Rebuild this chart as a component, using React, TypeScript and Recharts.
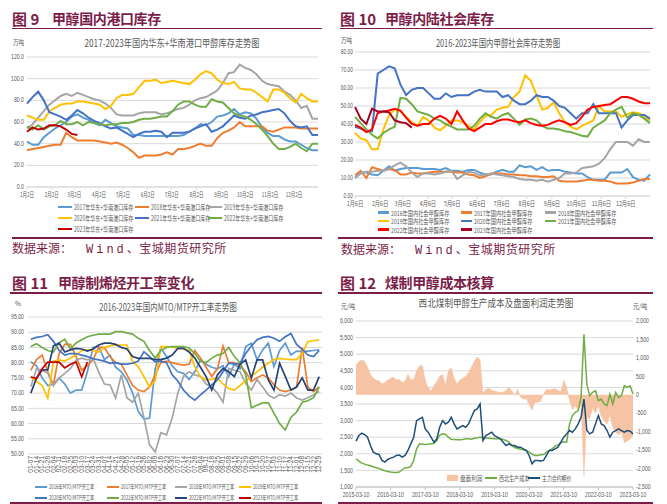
import React from 'react';
import { LineChart, Line, XAxis, YAxis, CartesianGrid, ComposedChart, Area } from 'recharts';

const MAROON = '#7b1d48';
const GRID = '#d9d9d9';
const TXT = '#595959';
const CJK = "'Noto Sans CJK SC','Noto Sans',sans-serif";
const NUM = "'Liberation Sans Narrow','Liberation Sans','DejaVu Sans',sans-serif";

/* ---------- 图9 港口库存 (weekly, day offset from 1月2日) ---------- */
const PORT_TICK_DAYS = [0, 31, 59, 90, 120, 151, 181, 212, 243, 273, 304, 334];
const PORT_TICK_LABELS = ['1月2日', '2月2日', '3月2日', '4月2日', '5月2日', '6月2日', '7月2日', '8月2日', '9月2日', '10月2日', '11月2日', '12月2日'];
const PORT_Y_TICKS = [0, 20, 40, 60, 80, 100, 120];
const PORT_NAMES = ['2017年华东+华南港口库存', '2018年华东+华南港口库存', '2019年华东+华南港口库存', '2020年华东+华南港口库存', '2021年华东+华南港口库存', '2022年华东+华南港口库存', '2023年华东+华南港口库存'];
const PORT_COLORS = ['#5b9bd5', '#ed7d31', '#a5a5a5', '#ffc000', '#4472c4', '#70ad47', '#c00000'];
const PORT_2017 = [42, 39, 39, 46, 50, 54, 57, 60, 65, 67, 64, 62, 59, 57, 62, 59, 56, 55, 54, 48, 48, 47, 47, 47, 47, 47, 47, 47, 48, 51, 54, 58, 57, 60, 65, 66, 68, 72, 67, 69, 68, 63, 55, 50, 47, 47, 44, 42, 42, 39, 36, 34, 34];
const PORT_2018 = [34, 35, 36, 37, 38, 39, 39, 50, 46, 43, 43, 43, 43, 42, 41, 40, 41, 39, 36, 32, 27, 29, 29, 29, 30, 32, 30, 35, 35, 36, 38, 40, 38, 38, 45, 50, 52, 55, 60, 56, 56, 56, 56, 52, 51, 53, 55, 55, 55, 54, 54, 54, 54];
const PORT_2019 = [54, 58, 64, 70, 76, 80, 84, 86, 84, 87, 85, 83, 81, 80, 77, 73, 67, 66, 66, 66, 68, 69, 69, 69, 67, 68, 70, 72, 73, 76, 80, 82, 83, 86, 89, 96, 105, 106, 113, 110, 108, 104, 98, 95, 94, 93, 88, 85, 80, 73, 75, 63, 63];
const PORT_2020 = [66, 64, 62, 62, 70, 73, 76, 77, 77, 79, 79, 78, 77, 76, 72, 75, 82, 85, 85, 86, 92, 98, 98, 99, 96, 97, 98, 97, 96, 95, 99, 104, 107, 105, 99, 96, 95, 97, 91, 90, 90, 87, 83, 79, 90, 90, 87, 82, 78, 86, 82, 79, 79];
const PORT_2021 = [77, 83, 88, 80, 69, 67, 65, 62, 66, 71, 68, 64, 61, 59, 56, 54, 55, 52, 49, 46, 49, 51, 51, 52, 51, 46, 50, 50, 50, 51, 54, 56, 58, 51, 53, 56, 61, 66, 64, 63, 66, 67, 69, 70, 71, 72, 68, 61, 56, 55, 56, 48, 48];
const PORT_2022 = [56, 53, 57, 53, 56, 57, 61, 58, 58, 60, 57, 60, 59, 58, 57, 58, 58, 59, 59, 60, 62, 63, 63, 64, 65, 65, 70, 76, 79, 79, 76, 74, 74, 81, 79, 78, 73, 68, 66, 65, 62, 58, 53, 47, 40, 35, 35, 37, 40, 36, 33, 40, 40];
const PORT_2023 = [51, 55, 53, 54, 57, 57, 56, 53, 49, 48];

/* ---------- 图10 社会库存 (weekly, day offset from 1月6日) ---------- */
const SOC_TICK_DAYS = [0, 31, 59, 90, 120, 151, 181, 212, 243, 273, 304, 334];
const SOC_TICK_LABELS = ['1月6日', '2月6日', '3月6日', '4月6日', '5月6日', '6月6日', '7月6日', '8月6日', '9月6日', '10月6日', '11月6日', '12月6日'];
const SOC_Y_TICKS = [0, 10, 20, 30, 40, 50, 60, 70, 80];
const SOC_NAMES = ['2016年国内社会甲醇库存', '2017年国内社会甲醇库存', '2018年国内社会甲醇库存', '2019年国内社会甲醇库存', '2020年国内社会甲醇库存', '2021年国内社会甲醇库存', '2022年国内社会甲醇库存', '2023年国内社会甲醇库存'];
const SOC_COLORS = ['#5b9bd5', '#ed7d31', '#a5a5a5', '#ffc000', '#4472c4', '#70ad47', '#ff0000', '#a50021'];
const SOC_2016 = [10, 13, 13, 12, 11.5, 14, 16.5, 14, 15, 15.5, 15.5, 15.5, 15, 15, 15, 14.5, 15.5, 14, 14, 13.5, 14.5, 14.5, 13, 12, 12, 13.5, 14.5, 13.5, 13.5, 17, 16, 16.5, 14.5, 16, 14, 14.5, 14.5, 13.5, 13, 12.5, 12.5, 10.5, 9, 9, 9, 13, 13, 13, 15, 10.5, 9, 8.5, 12];
const SOC_2017 = [11.5, 14, 10, 16, 15, 14, 15, 14.5, 12, 12, 13, 12.5, 12.5, 13, 13.5, 13.5, 13.5, 13.5, 13, 13, 12, 11.5, 10, 11, 12.5, 12.5, 12.5, 12, 12, 11.5, 11.5, 11, 11, 10.5, 10.5, 11, 8.5, 8, 8, 8, 8.5, 9, 9, 8.5, 8.5, 8, 7, 7, 7, 7.5, 8.5, 9.5, 9.5];
const SOC_2018 = [10, 12.5, 13.5, 13.5, 14, 14, 15, 17, 18.5, 16.5, 13, 10.5, 12.5, 12.5, 12, 12.5, 13.5, 14, 9.5, 11.5, 13.5, 13, 11.5, 12, 12.5, 12, 11.5, 11, 10.5, 9.5, 9, 9, 8.5, 9, 8, 9, 10, 12.5, 12.5, 13, 15.5, 16, 16.5, 18, 21, 26, 30, 30, 30, 28, 31.5, 30, 30];
const SOC_2019 = [35, 32, 31, 26, 26, 37, 45, 48, 47, 44, 41, 39, 44, 42, 38, 36.5, 39, 42, 42, 41, 39, 37, 41, 44.5, 45, 48, 49, 49.5, 55, 58, 67, 64, 56, 48, 49, 52, 46, 41, 38.5, 37, 39, 40.5, 42, 50, 47, 47, 47, 44, 45.5, 46.5, 46, 44.5, 42];
const SOC_2020 = [38.5, 37.5, 36, 36, 68, 70, 72, 71, 62, 56, 59, 60, 60, 57, 54, 54, 57, 55, 56, 56, 56, 58, 59, 58, 58, 58, 55, 56, 53, 51, 51, 53, 56, 55, 55, 53, 50, 49, 46, 43, 46, 46, 51, 46, 46, 46, 46, 38, 42, 45, 45, 45, 43];
const SOC_2021 = [44, 40.5, 37, 34, 32, 35, 37, 38.5, 54.5, 54, 51, 47, 46, 45, 43, 42, 40, 38.5, 37, 37, 37, 39, 43, 46, 44, 43, 45, 46, 43, 39.5, 42.5, 43, 42, 39, 37.5, 37.5, 37, 36, 35.5, 34.5, 33.5, 33, 38, 40, 42, 46, 48, 49.5, 43.5, 46, 45, 43, 40.5];
const SOC_2022 = [39.5, 38, 35.5, 37, 46, 47, 47.5, 48.5, 47.5, 43.5, 40, 39, 40, 40, 43, 44.5, 43, 40, 47, 42, 37.5, 36, 38, 40, 40, 41.5, 42.5, 42.5, 41.5, 41, 42, 40.5, 39.5, 39, 39.5, 41, 42, 41, 39.5, 40.5, 44, 48, 49.5, 50, 50.5, 51, 53, 55, 55, 54, 52.5, 51.5, 51.5];
const SOC_2023 = [49.5, 43, 40, 48.5, 47, 47, 46.5, 42, 41, 40.5, 38];

/* ---------- 图11 MTO/MTP 开工率 (weekly categories) ---------- */
const MTO_LABELS = ['01-07', '01-14', '01-21', '01-28', '02-04', '02-11', '02-18', '02-25', '03-03', '03-10', '03-17', '03-24', '03-31', '04-07', '04-14', '04-21', '04-28', '05-05', '05-12', '05-19', '05-26', '06-02', '06-09', '06-16', '06-23', '06-30', '07-07', '07-14', '07-21', '07-28', '08-04', '08-11', '08-18', '08-25', '09-01', '09-08', '09-15', '09-22', '09-29', '10-06', '10-13', '10-20', '10-27', '11-03', '11-10', '11-17', '11-24', '12-01', '12-08', '12-15', '12-22', '12-29'];
const MTO_Y_TICKS = [50, 55, 60, 65, 70, 75, 80, 85, 90, 95];
const MTO_NAMES = ['2016年MTO/MTP开工率', '2017年MTO/MTP开工率', '2018年MTO/MTP开工率', '2019年MTO/MTP开工率', '2020年MTO/MTP开工率', '2021年MTO/MTP开工率', '2022年MTO/MTP开工率', '2023年MTO/MTP开工率'];
const MTO_COLORS = ['#5b9bd5', '#ed7d31', '#a5a5a5', '#ffc000', '#4472c4', '#70ad47', '#264478', '#c00000'];
const MTO_2016 = [80.3, 79, 75, 72.5, 73, 75, 73, 70, 71, 71, 77, 85, 85.3, 81, 82.5, 78.5, 77, 74.3, 70, 64, 61.5, 61.8, 78, 84.7, 82, 79, 77, 76.5, 74.5, 77, 80.9, 79.5, 78.5, 78, 79, 75.4, 79.5, 78, 85.3, 86.4, 81, 84.2, 86.4, 78.7, 84, 86.4, 82.5, 83.8, 83.6, 83.8, 84, 84.2];
const MTO_2017 = [77.5, 81, 82.5, 77, 72.7, 83, 86, 86, 82, 77.5, 79, 81, 85, 85, 82, 80, 79.5, 76, 72.5, 71, 70.5, 72, 76, 80, 80.5, 80, 79.5, 79.2, 79.5, 84, 81.5, 78.5, 75.5, 78, 85.5, 80, 80, 79, 77, 73.8, 75, 76, 75, 72.7, 71, 70.5, 71, 72, 85, 72, 70.5, 72];
const MTO_2018 = [72.1, 78, 77.5, 76.5, 72.5, 74.9, 76.5, 78, 80.9, 81.5, 80.9, 81.5, 77, 73, 72.7, 68.4, 76, 68.5, 67, 70, 62, 53, 50.7, 57, 56.3, 61.8, 70, 75.5, 77, 76, 75.5, 73, 72, 70, 67, 78.1, 77.5, 77, 73.2, 71, 74.5, 72, 69.4, 68.3, 69.5, 69, 70, 68.4, 67.7, 68.5, 69.4, 70.5];
const MTO_2019 = [75.4, 73.8, 72.5, 68.3, 80.5, 80.9, 80.5, 81.5, 82.5, 84, 84.2, 84, 83.5, 85, 85.5, 85.8, 85.8, 85.8, 80.3, 78.7, 75.4, 72, 74, 85.3, 85.3, 85.2, 84.7, 84.5, 84, 78.7, 75.4, 74.3, 74.5, 75, 73, 71.5, 71, 72.5, 74, 75.4, 77, 78.5, 79.8, 81, 81.4, 81.2, 81, 81, 83, 86.9, 87.2, 87.5];
const MTO_2020 = [87.7, 88.3, 88.6, 89.2, 87, 84, 82.5, 83, 83, 82.5, 82, 81.3, 80.9, 80.5, 79.8, 80, 79.5, 79.5, 79.8, 80.5, 83.6, 82, 80.3, 80.5, 80, 76, 74, 71, 69, 67.7, 69.4, 71, 72.7, 74.3, 77, 79.8, 79.5, 79.8, 83, 85.5, 87.5, 88.3, 88.6, 88, 87, 88.5, 89.6, 86, 84.4, 82.5, 82, 84];
const MTO_2021 = [85.3, 86.2, 85, 84, 83.5, 86.5, 87.7, 84.5, 86.5, 87.5, 88.5, 89, 89.4, 89.4, 89.4, 90.2, 90.2, 89.8, 89.4, 88, 87, 84, 81.5, 84, 85, 85.3, 85.3, 85.3, 84.8, 83, 80.5, 80, 81.5, 82.5, 83, 85, 82, 80, 76, 65.2, 66, 66.8, 66.8, 63.4, 60, 57.9, 62, 63.8, 67, 67.5, 68.5, 72];
const MTO_2022 = [70, 74.9, 77.6, 77.6, 85.5, 86.4, 83.5, 84.2, 84.7, 84.5, 83.8, 84.5, 85.8, 86.4, 86.4, 86, 85, 84.5, 82, 81.4, 81.4, 81.4, 81, 81, 81.5, 82.5, 84.7, 84.7, 83.5, 81.5, 78.5, 75.4, 71, 76, 78.1, 77, 75.4, 79.5, 80.9, 75, 80.9, 80.9, 74.3, 71, 79.8, 75.5, 71, 72, 75, 71, 71, 75.4];
const MTO_2023 = [75.3, 74.8, 78, 80.2, 80.2, 80.2, 78.3, 79.5, 80.2, 75.3, 80.2];

/* ---------- 图12 煤制甲醇成本 (monthly from 2015-03) ---------- */
const COST_TICKS = [0, 12, 24, 36, 48, 60, 72, 84, 96];
const COST_TICK_LABELS = ['2015-03-10', '2016-03-10', '2017-03-10', '2018-03-10', '2019-03-10', '2020-03-10', '2021-03-10', '2022-03-10', '2023-03-10'];
const COST_LEFT_TICKS = [1000, 1500, 2000, 2500, 3000, 3500, 4000, 4500, 5000, 5500, 6000];
const COST_RIGHT_TICKS = [-2500, -2000, -1500, -1000, -500, 0, 500, 1000, 1500, 2000];
const COST_PRICE = [2380, 2550, 2620, 2580, 2500, 2250, 2050, 2000, 1980, 1800, 1750, 1830, 1870, 1900, 1950, 1960, 1900, 1950, 2100, 2300, 2500, 3000, 3050, 3100, 2750, 2650, 2500, 2350, 2450, 2800, 3000, 2900, 2950, 3100, 2900, 2750, 2800, 2850, 2800, 2900, 3100, 3300, 3350, 3500, 2400, 2550, 2600, 2650, 2550, 2500, 2450, 2350, 2250, 2300, 2250, 2250, 2200, 2200, 2150, 2100, 1950, 1700, 1800, 1800, 1780, 1800, 1950, 2100, 2100, 2150, 2200, 2350, 2500, 2600, 2700, 2650, 2750, 2900, 3100, 3650, 2700, 2600, 2650, 2900, 3150, 2900, 2850, 2700, 2500, 2650, 2700, 2750, 2700, 2650, 2700, 2680, 2600];
const COST_COST = [1850, 1780, 1720, 1690, 1660, 1640, 1610, 1580, 1560, 1520, 1490, 1470, 1450, 1440, 1440, 1450, 1520, 1580, 1580, 1620, 1800, 2150, 2300, 2290, 2280, 2290, 2300, 2310, 2400, 2560, 2600, 2590, 2500, 2440, 2430, 2420, 2420, 2430, 2450, 2450, 2440, 2470, 2480, 2500, 2490, 2480, 2470, 2460, 2450, 2450, 2450, 2430, 2400, 2350, 2250, 2190, 2160, 2140, 2120, 2100, 2050, 1990, 1950, 1950, 1970, 1980, 2050, 2100, 2150, 2230, 2270, 2330, 2360, 2350, 2900, 3150, 3250, 3300, 3700, 5600, 4100, 3750, 3850, 3900, 3600, 3650, 3500, 3450, 3800, 3500, 3850, 3700, 3750, 4050, 4000, 4050, 3800];
const COST_PROFIT = [800, 900, 940, 900, 750, 550, 450, 400, 380, 300, 330, 400, 450, 480, 400, 420, 330, 380, 560, 400, 420, 650, 780, 800, 400, 200, 100, 250, 350, 500, 550, 250, 650, 740, 450, 300, 400, 450, 500, 600, 750, 900, 1030, 950, 50, 150, 180, 120, 100, 80, 60, 70, 120, 200, 100, -20, 160, -60, -120, -100, -260, -420, -200, -200, -180, 20, 150, 130, 150, 170, 120, 80, 400, 200, -150, -400, -300, -420, -280, -2200, -600, -650, -350, -500, -300, -600, -700, -800, -550, -900, -1000, -1100, -1000, -1300, -1250, -1200, -1100];

/* ---------- build tables ---------- */
const PORT_SERIES = [PORT_2017, PORT_2018, PORT_2019, PORT_2020, PORT_2021, PORT_2022, PORT_2023];
const portData = PORT_2017.map((_, i) => {
  const row: any = { day: i * 7 };
  PORT_SERIES.forEach((s, j) => { row['s' + j] = s[i]; });
  return row;
});
const SOC_SERIES = [SOC_2016, SOC_2017, SOC_2018, SOC_2019, SOC_2020, SOC_2021, SOC_2022, SOC_2023];
const socData = SOC_2016.map((_, i) => {
  const row: any = { day: i * 7 };
  SOC_SERIES.forEach((s, j) => { row['s' + j] = s[i]; });
  return row;
});
const MTO_SERIES = [MTO_2016, MTO_2017, MTO_2018, MTO_2019, MTO_2020, MTO_2021, MTO_2022, MTO_2023];
const mtoData = MTO_LABELS.map((_, i) => {
  const row: any = { i };
  MTO_SERIES.forEach((s, j) => { row['s' + j] = s[i]; });
  return row;
});
const MTO_TICKS = MTO_LABELS.map((_, i) => i);
const costData = COST_PRICE.map((p, k) => ({ k, price: p, cost: COST_COST[k], profit: COST_PROFIT[k] }));

/* ---------- helpers ---------- */
function mkTick(fmt: (v: number) => string, fs: number, sx: number, anchor: string, dy: string, family = NUM) {
  return (p: any) => (
    <g transform={`translate(${p.x},${p.y}) scale(${sx},1)`}>
      <text x={0} y={0} dy={dy} textAnchor={anchor} fontSize={fs} fill={TXT} fontFamily={family}>
        {fmt(p.payload.value)}
      </text>
    </g>
  );
}

const rotTick = (p: any) => (
  <g transform={`translate(${p.x},${p.y}) rotate(-90)`}>
    <text x={0} y={0} dy="0.35em" textAnchor="end" fontSize={6.5} fill={TXT} fontFamily={NUM}>
      {MTO_LABELS[p.payload.value]}
    </text>
  </g>
);

function T(props: { x: number; y: number; text: string; fs: number; sx?: number; color?: string; weight?: number; anchor?: string; family?: string; ls?: number }) {
  const { x, y, text, fs, sx = 1, color = TXT, weight = 400, anchor = 'start', family = CJK, ls = 0 } = props;
  const tx = anchor === 'middle' ? '-50%' : anchor === 'end' ? '-100%' : '0';
  const origin = anchor === 'middle' ? 'center' : anchor === 'end' ? 'right' : 'left';
  return (
    <div style={{ position: 'absolute', left: x, top: y, transform: `translate(${tx},-50%) scaleX(${sx})`, transformOrigin: `${origin} center`, fontSize: fs, lineHeight: 1, color, fontWeight: weight, fontFamily: family, whiteSpace: 'nowrap', letterSpacing: ls }}>
      {text}
    </div>
  );
}

function Rule({ x1, x2, y }: { x1: number; x2: number; y: number }) {
  return <div style={{ position: 'absolute', left: x1, top: y - 0.75, width: x2 - x1, height: 1.5, background: MAROON }} />;
}

function Heading({ x, y, num, title, gap }: { x: number; y: number; num: string; title: string; gap: number }) {
  return (
    <>
      <T x={x} y={y} text={num} fs={15} weight={700} color={MAROON} />
      <T x={x + gap} y={y} text={title} fs={14} weight={700} color={MAROON} ls={-0.4} />
    </>
  );
}

function Source({ x, y }: { x: number; y: number }) {
  return (
    <div style={{ position: 'absolute', left: x, top: y, transform: 'translateY(-50%)', fontSize: 12, lineHeight: 1, color: MAROON, fontFamily: CJK, whiteSpace: 'nowrap' }}>
      <span>数据来源：</span>
      <span style={{ fontFamily: "'Liberation Mono',monospace", letterSpacing: 3, marginLeft: 14 }}>Wind</span>
      <span style={{ letterSpacing: 0.5 }}>、宝城期货研究所</span>
    </div>
  );
}

type Leg = { lx: number; y: number; color: string; label: string };
function Legend({ items, len, fs, sx, thick = 2 }: { items: Leg[]; len: number; fs: number; sx: number; thick?: number }) {
  return (
    <>
      {items.map((it, i) => (
        <React.Fragment key={i}>
          <div style={{ position: 'absolute', left: it.lx, top: it.y - thick / 2, width: len, height: thick, background: it.color }} />
          <T x={it.lx + len + 1.5} y={it.y} text={it.label} fs={fs} sx={sx} />
        </React.Fragment>
      ))}
    </>
  );
}

const portLegend: Leg[] = [
  { lx: 58, y: 207, color: PORT_COLORS[0], label: PORT_NAMES[0] },
  { lx: 135, y: 207, color: PORT_COLORS[1], label: PORT_NAMES[1] },
  { lx: 208, y: 207, color: PORT_COLORS[2], label: PORT_NAMES[2] },
  { lx: 58, y: 218, color: PORT_COLORS[3], label: PORT_NAMES[3] },
  { lx: 135, y: 218, color: PORT_COLORS[4], label: PORT_NAMES[4] },
  { lx: 208, y: 218, color: PORT_COLORS[5], label: PORT_NAMES[5] },
  { lx: 58, y: 229, color: PORT_COLORS[6], label: PORT_NAMES[6] },
];
const socLegend: Leg[] = [
  { lx: 378, y: 212.5, color: SOC_COLORS[0], label: SOC_NAMES[0] },
  { lx: 461, y: 212.5, color: SOC_COLORS[1], label: SOC_NAMES[1] },
  { lx: 545, y: 212.5, color: SOC_COLORS[2], label: SOC_NAMES[2] },
  { lx: 378, y: 221, color: SOC_COLORS[3], label: SOC_NAMES[3] },
  { lx: 461, y: 221, color: SOC_COLORS[4], label: SOC_NAMES[4] },
  { lx: 545, y: 221, color: SOC_COLORS[5], label: SOC_NAMES[5] },
  { lx: 378, y: 229.5, color: SOC_COLORS[6], label: SOC_NAMES[6] },
  { lx: 461, y: 229.5, color: SOC_COLORS[7], label: SOC_NAMES[7] },
];
const mtoLegend: Leg[] = [
  { lx: 35, y: 487, color: MTO_COLORS[0], label: MTO_NAMES[0] },
  { lx: 107, y: 487, color: MTO_COLORS[1], label: MTO_NAMES[1] },
  { lx: 175, y: 487, color: MTO_COLORS[2], label: MTO_NAMES[2] },
  { lx: 239, y: 487, color: MTO_COLORS[3], label: MTO_NAMES[3] },
  { lx: 35, y: 498, color: MTO_COLORS[4], label: MTO_NAMES[4] },
  { lx: 107, y: 498, color: MTO_COLORS[5], label: MTO_NAMES[5] },
  { lx: 175, y: 498, color: MTO_COLORS[6], label: MTO_NAMES[6] },
  { lx: 239, y: 498, color: MTO_COLORS[7], label: MTO_NAMES[7] },
];

const commaFmt = (v: number) => v.toLocaleString('en-US');

export default function App() {
  return (
    <div style={{ position: 'absolute', left: 0, top: 0, width: 667, height: 504, background: '#fff', overflow: 'hidden' }}>
      {/* ===== 图9 ===== */}
      <Heading x={12} y={17.5} num="图 9" title="甲醇国内港口库存" gap={40} />
      <Rule x1={12} x2={322} y={28.5} />
      <T x={13} y={42} text="万吨" fs={6.5} sx={0.85} />
      <T x={172} y={43} text="2017-2023年国内华东+华南港口甲醇库存走势图" fs={10} sx={0.82} anchor="middle" />
      <div style={{ position: 'absolute', left: 0, top: 0 }}>
        <LineChart width={333} height={201} data={portData} margin={{ top: 57, right: 15, bottom: 0, left: 0 }}>
          <CartesianGrid vertical={false} stroke={GRID} />
          <XAxis type="number" dataKey="day" domain={[0, 364]} ticks={PORT_TICK_DAYS} interval={0} height={14} tickSize={3} tickMargin={2}
            axisLine={{ stroke: GRID }} tickLine={{ stroke: GRID }}
            tick={mkTick((v) => PORT_TICK_LABELS[PORT_TICK_DAYS.indexOf(v)], 6.8, 0.66, 'middle', '0.71em', CJK)} />
          <YAxis domain={[0, 120]} ticks={PORT_Y_TICKS} interval={0} width={27} axisLine={false} tickLine={false} tickSize={0} tickMargin={3}
            tick={mkTick((v) => v.toFixed(1), 6.5, 0.8, 'end', '0.3em')} />
          {PORT_SERIES.map((_, j) => (
            <Line key={j} dataKey={'s' + j} stroke={PORT_COLORS[j]} strokeWidth={2} dot={false} activeDot={false} type="linear" isAnimationActive={false} />
          ))}
        </LineChart>
      </div>
      <Legend items={portLegend} len={14} fs={7} sx={0.72} thick={2.5} />
      <Rule x1={12} x2={322} y={238} />
      <Source x={12} y={249} />

      {/* ===== 图10 ===== */}
      <Heading x={340} y={17.5} num="图 10" title="甲醇内陆社会库存" gap={45} />
      <Rule x1={340} x2={653} y={28.5} />
      <T x={341} y={40} text="万吨" fs={6.5} sx={0.85} />
      <T x={498} y={43} text="2016-2023年国内甲醇社会库存走势图" fs={10} sx={0.74} anchor="middle" />
      <div style={{ position: 'absolute', left: 333, top: 0 }}>
        <LineChart width={334} height={211} data={socData} margin={{ top: 52, right: 17, bottom: 0, left: 0 }}>
          <CartesianGrid vertical={false} stroke={GRID} />
          <XAxis type="number" dataKey="day" domain={[0, 364]} ticks={SOC_TICK_DAYS} interval={0} height={15} tickSize={3} tickMargin={2}
            axisLine={{ stroke: GRID }} tickLine={{ stroke: GRID }}
            tick={mkTick((v) => SOC_TICK_LABELS[SOC_TICK_DAYS.indexOf(v)], 6.8, 0.78, 'middle', '0.71em', CJK)} />
          <YAxis domain={[0, 80]} ticks={SOC_Y_TICKS} interval={0} width={22} axisLine={false} tickLine={false} tickSize={0} tickMargin={2}
            tick={mkTick((v) => v.toFixed(2), 6.5, 0.75, 'end', '0.3em')} />
          {SOC_SERIES.map((_, j) => (
            <Line key={j} dataKey={'s' + j} stroke={SOC_COLORS[j]} strokeWidth={2} dot={false} activeDot={false} type="linear" isAnimationActive={false} />
          ))}
        </LineChart>
      </div>
      <Legend items={socLegend} len={11} fs={6.5} sx={0.8} thick={2.5} />
      <Rule x1={338} x2={653} y={238} />
      <Source x={341} y={250} />

      {/* ===== 图11 ===== */}
      <Heading x={12} y={281.5} num="图 11" title="甲醇制烯烃开工率变化" gap={46} />
      <Rule x1={10} x2={322} y={293} />
      <T x={15} y={303} text="%" fs={6.5} />
      <T x={168} y={307} text="2016-2023年国内MTO/MTP开工率走势图" fs={10} sx={0.75} anchor="middle" />
      <div style={{ position: 'absolute', left: 0, top: 260 }}>
        <LineChart width={333} height={222} data={mtoData} margin={{ top: 57, right: 11, bottom: 0, left: 0 }}>
          <CartesianGrid vertical={false} stroke={GRID} />
          <XAxis type="number" dataKey="i" domain={[-0.5, 51.5]} ticks={MTO_TICKS} interval={0} height={28} tickSize={0} tickMargin={2}
            axisLine={false} tickLine={false} tick={rotTick} />
          <YAxis domain={[50, 95]} ticks={MTO_Y_TICKS} interval={0} width={28} axisLine={false} tickLine={false} tickSize={0} tickMargin={4}
            tick={mkTick((v) => v.toFixed(2), 6.5, 0.8, 'end', '0.35em')} />
          {MTO_SERIES.map((_, j) => (
            <Line key={j} dataKey={'s' + j} stroke={MTO_COLORS[j]} strokeWidth={1.7} dot={false} activeDot={false} type="linear" isAnimationActive={false} />
          ))}
        </LineChart>
      </div>
      <Legend items={mtoLegend} len={12} fs={6.2} sx={0.68} thick={2} />
      <Rule x1={10} x2={322} y={503} />

      {/* ===== 图12 ===== */}
      <Heading x={340} y={281.5} num="图 12" title="煤制甲醇成本核算" gap={45} />
      <Rule x1={338} x2={653} y={293} />
      <T x={341} y={306} text="元/吨" fs={6.5} sx={0.9} />
      <T x={633} y={306} text="元/吨" fs={6.5} sx={0.9} />
      <T x={496} y={303} text="西北煤制甲醇生产成本及盘面利润走势图" fs={10} sx={0.86} anchor="middle" />
      <div style={{ position: 'absolute', left: 333, top: 260 }}>
        <ComposedChart width={334} height={245} data={costData} margin={{ top: 61, right: 0, bottom: 0, left: 0 }}>
          <CartesianGrid vertical={false} stroke={GRID} yAxisId="l" />
          <XAxis type="number" dataKey="k" domain={[0, 96]} ticks={COST_TICKS} interval={0} height={18} tickSize={3} tickMargin={2}
            axisLine={{ stroke: '#bfbfbf' }} tickLine={{ stroke: '#bfbfbf' }}
            tick={mkTick((v) => COST_TICK_LABELS[COST_TICKS.indexOf(v)], 6.5, 0.8, 'middle', '0.71em')} />
          <YAxis yAxisId="l" domain={[1000, 6000]} ticks={COST_LEFT_TICKS} interval={0} width={23} axisLine={false} tickLine={false} tickSize={0} tickMargin={3}
            tick={mkTick(commaFmt, 6.5, 0.8, 'end', '0.35em')} />
          <YAxis yAxisId="r" orientation="right" domain={[-2500, 2000]} ticks={COST_RIGHT_TICKS} interval={0} width={34} axisLine={false} tickLine={false} tickSize={0} tickMargin={3}
            tick={mkTick(commaFmt, 6.5, 0.8, 'start', '0.35em')} />
          <Area yAxisId="r" dataKey="profit" type="linear" baseValue={0} fill="#f6c4a4" fillOpacity={1} stroke="#f6c4a4" strokeWidth={0.5} dot={false} activeDot={false} isAnimationActive={false} />
          <Line yAxisId="l" dataKey="cost" stroke="#70ad47" strokeWidth={1.5} dot={false} activeDot={false} type="linear" isAnimationActive={false} />
          <Line yAxisId="l" dataKey="price" stroke="#1f4e79" strokeWidth={1.5} dot={false} activeDot={false} type="linear" isAnimationActive={false} />
        </ComposedChart>
      </div>
      <div style={{ position: 'absolute', left: 447, top: 475, width: 11, height: 6, background: '#f6c4a4' }} />
      <T x={460} y={478} text="盘面利润" fs={7} sx={0.8} />
      <div style={{ position: 'absolute', left: 485, top: 477.2, width: 12, height: 1.6, background: '#70ad47' }} />
      <T x={498.5} y={478} text="西北生产成本" fs={7} sx={0.72} />
      <div style={{ position: 'absolute', left: 528, top: 477.2, width: 12, height: 1.6, background: '#1f4e79' }} />
      <T x={542} y={478} text="主力合约期价" fs={7} sx={0.7} />
      <Rule x1={338} x2={653} y={503} />
    </div>
  );
}
